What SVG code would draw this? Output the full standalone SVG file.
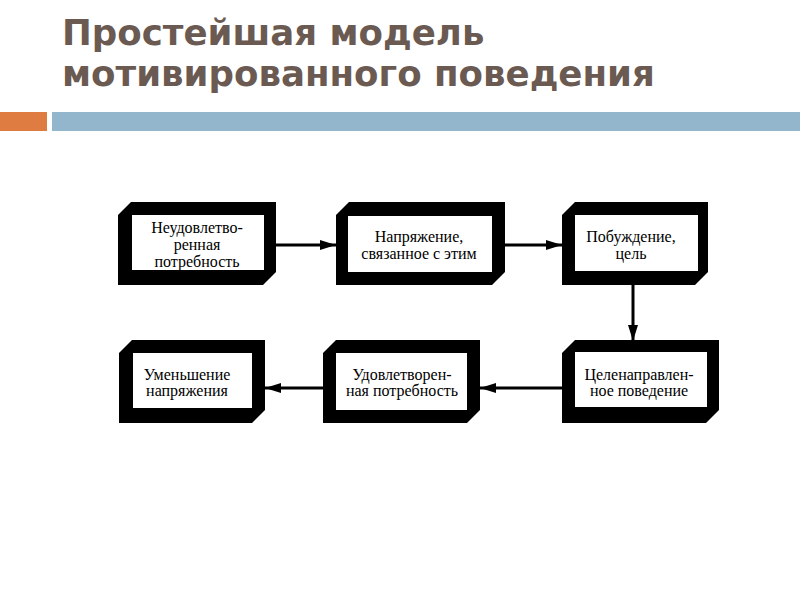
<svg xmlns="http://www.w3.org/2000/svg" width="800" height="600" viewBox="0 0 800 600">
<style>
.title{font-family:"DejaVu Sans","Verdana",sans-serif;font-weight:bold;font-size:35.6px;fill:#6a5a52}
.frame{fill:#000}
.inner{fill:#fff}
.lbl{font-family:"Liberation Serif","DejaVu Serif","Times New Roman",serif;font-size:16px;fill:#000;text-anchor:middle}
.conn{stroke:#000;stroke-width:3;fill:none;marker-end:url(#ah)}
</style>
<defs>
<marker id="ah" markerUnits="userSpaceOnUse" markerWidth="18" markerHeight="12" refX="16" refY="6" orient="auto">
<path d="M0,1 L16,6 L0,11 Z" fill="#000"/>
</marker>
</defs>
<rect width="800" height="600" fill="#fff"/>
<text class="title" x="62" y="45">Простейшая модель</text>
<text class="title" x="62" y="86">мотивированного поведения</text>
<rect x="0" y="112" width="47" height="19" fill="#df7c42"/>
<rect x="52" y="112" width="748" height="19" fill="#94b6cd"/>

<g id="connectors">
<line class="conn" x1="276" y1="245" x2="336" y2="245"/>
<line class="conn" x1="505" y1="245" x2="562" y2="245"/>
<line class="conn" x1="633" y1="285" x2="633" y2="341"/>
<line class="conn" x1="562" y1="388" x2="480" y2="388"/>
<line class="conn" x1="323" y1="388" x2="265" y2="388"/>
</g>

<g id="n1">
<path class="frame" d="M131,202 L276,202 L276,272 L263,285 L118,285 L118,215 Z"/>
<rect class="inner" x="132" y="215" width="132" height="55"/>
<text class="lbl" x="197" y="233">Неудовлетво-</text>
<text class="lbl" x="197" y="250">ренная</text>
<text class="lbl" x="197" y="267">потребность</text>
</g>
<g id="n2">
<path class="frame" d="M349,202 L505,202 L505,272 L492,285 L336,285 L336,215 Z"/>
<rect class="inner" x="348" y="216" width="144" height="56"/>
<text class="lbl" x="419" y="242">Напряжение,</text>
<text class="lbl" x="419" y="259">связанное с этим</text>
</g>
<g id="n3">
<path class="frame" d="M575,202 L708,202 L708,272 L695,285 L562,285 L562,215 Z"/>
<rect class="inner" x="575" y="215" width="123" height="56"/>
<text class="lbl" x="631" y="242">Побуждение,</text>
<text class="lbl" x="631" y="259">цель</text>
</g>
<g id="n4">
<path class="frame" d="M132,340 L265,340 L265,410 L252,423 L119,423 L119,353 Z"/>
<rect class="inner" x="133" y="353" width="119" height="55"/>
<text class="lbl" x="187" y="380">Уменьшение</text>
<text class="lbl" x="187" y="396">напряжения</text>
</g>
<g id="n5">
<path class="frame" d="M336,340 L480,340 L480,410 L467,423 L323,423 L323,353 Z"/>
<rect class="inner" x="336" y="353" width="131" height="57"/>
<text class="lbl" x="402" y="380">Удовлетворен-</text>
<text class="lbl" x="402" y="396">ная потребность</text>
</g>
<g id="n6">
<path class="frame" d="M575,340 L719,340 L719,410 L706,423 L562,423 L562,353 Z"/>
<rect class="inner" x="575" y="352" width="132" height="55"/>
<text class="lbl" x="639" y="380">Целенаправлен-</text>
<text class="lbl" x="639" y="396">ное поведение</text>
</g>
</svg>
